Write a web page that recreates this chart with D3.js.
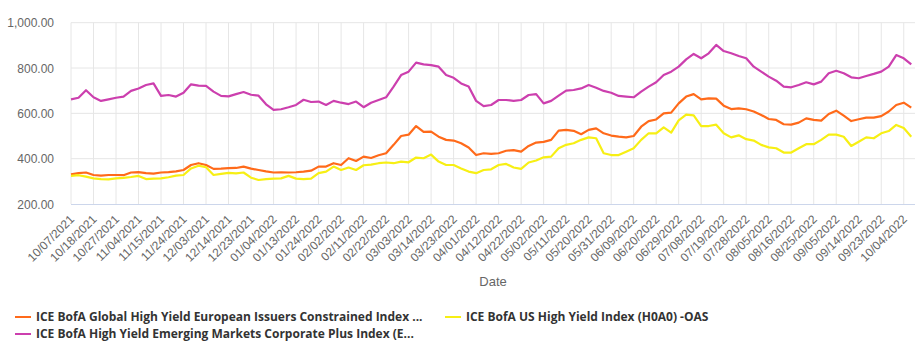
<!DOCTYPE html>
<html>
<head>
	<title>High yield spreads</title>
	<script src="https://d3js.org/d3.v7.min.js"></script>
	<style>
		body{ margin:0; background:#fff;}
		text{ font-family: 'Liberation Sans', Arial, sans-serif;}
		.ylab, .xlab{ fill:#666; font-size:12px;}
		.title{ fill:#666; font-size:13px;}
		.legend text{ fill:#333; font-family:'Open Sans', sans-serif; font-weight:700; font-size:12px;}
	</style>
</head>
<body>
	<div class="chart"></div>
	<script>
		// tick labels, one every 3 data steps
		const tickLabels = ['10/07/2021','10/18/2021','10/27/2021','11/04/2021','11/15/2021','11/24/2021','12/03/2021','12/14/2021','12/23/2021','01/04/2022','01/13/2022','01/24/2022','02/02/2022','02/11/2022','02/22/2022','03/03/2022','03/14/2022','03/23/2022','04/01/2022','04/12/2022','04/22/2022','05/02/2022','05/11/2022','05/20/2022','05/31/2022','06/09/2022','06/20/2022','06/29/2022','07/08/2022','07/19/2022','07/28/2022','08/05/2022','08/16/2022','08/25/2022','09/05/2022','09/14/2022','09/23/2022','10/04/2022'];
		const stepsPerTick = 3;

		const seriesNames = [
			'ICE BofA Global High Yield European Issuers Constrained Index ...',
			'ICE BofA US High Yield Index (H0A0) -OAS',
			'ICE BofA High Yield Emerging Markets Corporate Plus Index (E...'
		];
		const seriesColors = ['#ff6a1a', '#f7ef14', '#cc3fae'];

		const europe = [331,336,339,328,325,328,328,327,339,341,336,334,339,341,344,350,372,380,372,355,356,358,359,365,356,350,344,339,
			340,339,340,343,347,365,365,380,372,402,390,409,403,415,424,461,500,506,544,518,519,497,483,480,468,449,416,424,
			421,424,435,438,431,456,471,474,483,524,527,523,508,527,534,512,502,497,494,500,541,566,573,600,603,644,674,685,
			662,666,665,634,619,622,618,608,593,575,571,552,550,559,578,571,568,597,612,590,566,574,581,581,588,608,637,647,625];
		const us = [324,327,321,313,310,309,313,315,319,324,310,312,313,318,325,328,357,369,362,328,333,337,335,339,316,306,310,312,
			313,324,312,310,312,336,343,365,350,361,350,371,374,380,383,380,387,384,405,402,418,387,372,372,357,343,336,350,
			353,372,377,361,355,383,392,406,409,446,461,468,483,494,490,424,416,416,431,446,483,512,512,538,515,569,594,591,
			544,544,550,512,494,503,486,480,461,450,446,427,427,446,464,464,483,506,506,497,456,475,494,490,512,522,549,535,497];
		const emerging = [662,669,702,671,655,662,669,674,699,710,725,732,677,681,674,691,728,722,721,696,677,675,685,694,682,678,640,615,
			618,627,637,660,650,652,637,655,647,641,652,627,647,659,671,718,769,784,824,816,813,806,769,757,732,718,655,632,
			637,659,659,655,659,681,685,644,655,678,700,703,710,725,713,699,691,677,674,671,696,718,737,769,784,806,838,862,
			843,865,902,875,865,853,843,806,784,762,744,718,715,725,737,728,740,777,788,777,759,755,765,774,784,806,857,843,816];

		const yTicks = [200, 400, 600, 800, 1000];

		const series = [europe, us, emerging];

		const width = 922, height = 364;
		const margin = {left:71, right:7, top:22.7, bottom:160};
		const plotW = width - margin.left - margin.right;
		const plotH = height - margin.top - margin.bottom;

		const svg = d3.select('.chart').append('svg').attr('width',width).attr('height',height)
		const chart = svg.append('g').attr('transform',`translate(${margin.left},${margin.top})`)

		let x = d3.scaleLinear()
				.domain([0, (tickLabels.length - 1) * stepsPerTick + 1.5])
				.range([0, plotW])
		let y = d3.scaleLinear()
				.domain([200, 1000])
				.range([plotH, 0])

		// grid
		chart.selectAll('.hgrid').data(yTicks.filter(d => d > 200)).join('line')
			.attr('x1',0).attr('x2',plotW)
			.attr('y1',d => y(d)).attr('y2',d => y(d))
			.attr('stroke','#e6e6e6')
		chart.selectAll('.vgrid').data(tickLabels).join('line')
			.attr('x1',(d,i) => x(i*stepsPerTick)).attr('x2',(d,i) => x(i*stepsPerTick))
			.attr('y1',0).attr('y2',plotH)
			.attr('stroke','#e6e6e6')

		// y axis
		let y_axis = d3.axisLeft(y).tickValues(yTicks).tickFormat(d3.format(',.2f')).tickSize(0).tickPadding(17)
		let yg = chart.append('g').call(y_axis)
		yg.select('.domain').remove()
		yg.selectAll('text').attr('class','ylab').attr('dy','0.34em').attr('font-size',null).attr('font-family',null)

		// x axis
		chart.append('line').attr('x1',0).attr('x2',plotW).attr('y1',plotH+0.5).attr('y2',plotH+0.5).attr('stroke','#ccd6eb')
		chart.selectAll('.xlab').data(tickLabels).join('text')
			.attr('class','xlab')
			.attr('text-anchor','end')
			.attr('transform',(d,i) => `translate(${x(i*stepsPerTick)+4},${plotH+16}) rotate(-45)`)
			.text(d => d)

		svg.append('text').attr('class','title').attr('x',margin.left + plotW/2).attr('y',286).attr('text-anchor','middle').text('Date')

		// lines
		let line = d3.line().x((d,i) => x(i)).y(d => y(d))
		chart.selectAll('.series').data(series).join('path')
			.attr('d',d => line(d))
			.attr('fill','none')
			.attr('stroke',(d,i) => seriesColors[i])
			.attr('stroke-width',2.2)
			.attr('stroke-linejoin','round')

		// legend
		const legendPos = [[15,317],[445,317],[15,334]];
		let legend = svg.append('g').attr('class','legend')
		let items = legend.selectAll('g').data(seriesNames).join('g')
			.attr('transform',(d,i) => `translate(${legendPos[i][0]},${legendPos[i][1]})`)
		items.append('line').attr('x1',0).attr('x2',16).attr('stroke',(d,i) => seriesColors[i]).attr('stroke-width',2)
		items.append('text').attr('x',21).attr('dy','0.35em').text(d => d)
	</script>
</body>
</html>
